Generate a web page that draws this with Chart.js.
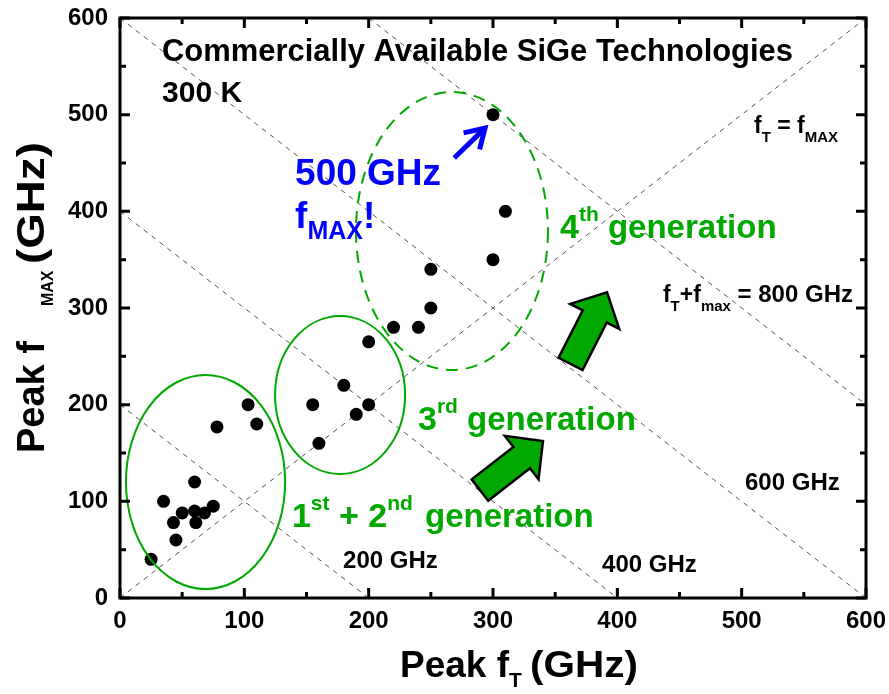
<!DOCTYPE html>
<html><head><meta charset="utf-8">
<script src="https://cdn.jsdelivr.net/npm/chart.js@4/dist/chart.umd.min.js"></script>
<style>html,body{margin:0;padding:0;background:#fff}canvas{display:block}</style>
</head><body>
<canvas id="c" width="889" height="694"></canvas>
<script>
// ---- data ----
const peakFT   = [25, 35, 45, 43, 50, 60, 61, 68, 75, 60, 78, 103, 110, 155, 160, 180, 190, 200, 200, 220, 240, 250, 250, 300, 300, 310];
const peakFMAX = [40, 100, 60, 78, 88, 90, 78, 88, 95, 120, 177, 200, 180, 200, 160, 220, 190, 200, 265, 280, 280, 300, 340, 350, 500, 400];
const axisTicks = [0, 100, 200, 300, 400, 500, 600];
const sumLines = [200, 400, 600, 800];   // fT + fmax = const (GHz)

const FONT = '"Liberation Sans", Arial, sans-serif';
const GREEN = '#00a800';
const BLUE = '#0000ff';

const guideDatasets = [
  {type:'line', data:[{x:0,y:0},{x:600,y:600}]}
].concat(sumLines.map(s => ({type:'line', data:[{x:Math.max(0,s-600),y:Math.min(600,s)},{x:Math.min(600,s),y:Math.max(0,s-600)}]})))
 .map(d => Object.assign(d, {borderColor:'#555', borderWidth:1, borderDash:[5,5], pointRadius:0, fill:false, tension:0}));

// annotation layout (data coordinates)
const ellipses = [
  {cx:68.8, cy:120, rx:64, ry:110.7, dash:[]},
  {cx:177, cy:210, rx:52.3, ry:81.7, dash:[]},
  {cx:267, cy:379.6, rx:77.2, ry:143.8, dash:[12,8]}
];
const greenArrows = [
  {tail:[289.5,111.7], tip:[340.2,162.4]},
  {tail:[362.4,242.2], tip:[391.7,316.2]}
];

function rich(ctx, x, y, parts, color, align) {
  // parts: [text, size, dy]
  let w = 0;
  parts.forEach(p => { ctx.font = 'bold ' + p[1] + 'px ' + FONT; w += ctx.measureText(p[0]).width; });
  let cx = align === 'center' ? x - w/2 : (align === 'right' ? x - w : x);
  ctx.fillStyle = color; ctx.textBaseline = 'alphabetic'; ctx.textAlign = 'left';
  parts.forEach(p => { ctx.font = 'bold ' + p[1] + 'px ' + FONT; ctx.fillText(p[0], cx, y + (p[2]||0)); cx += ctx.measureText(p[0]).width; });
}
function stretch(ctx, text, x, y, size, width) {
  ctx.save();
  ctx.font = 'bold ' + size + 'px ' + FONT; ctx.textAlign = 'left'; ctx.textBaseline = 'alphabetic';
  const w = ctx.measureText(text).width;
  ctx.translate(x, y); ctx.scale(width / w, 1); ctx.fillText(text, 0, 0);
  ctx.restore();
}

const annot = {
  id:'annot',
  afterDatasetsDraw(chart) {
    const ctx = chart.ctx, xs = chart.scales.x, ys = chart.scales.y;
    const X = v => xs.getPixelForValue(v), Y = v => ys.getPixelForValue(v);
    ctx.save();
    // ellipses
    ellipses.forEach(e => {
      ctx.beginPath();
      const rxp = Math.abs(X(e.cx + e.rx) - X(e.cx)), ryp = Math.abs(Y(e.cy + e.ry) - Y(e.cy));
      ctx.ellipse(X(e.cx), Y(e.cy), rxp, ryp, 0, 0, Math.PI*2);
      ctx.setLineDash(e.dash); ctx.strokeStyle = GREEN; ctx.lineWidth = 2; ctx.stroke();
    });
    ctx.setLineDash([]);
    // green block arrows
    greenArrows.forEach(a => {
      const tx = X(a.tail[0]), ty = Y(a.tail[1]), px = X(a.tip[0]), py = Y(a.tip[1]);
      const L = Math.hypot(px-tx, py-ty), ux = (px-tx)/L, uy = (py-ty)/L, nx = -uy, ny = ux;
      const sw = 13.5, hw = 27.5, hl = 27;
      const bx = px - ux*hl, by = py - uy*hl;
      const pts = [[tx+nx*sw,ty+ny*sw],[bx+nx*sw,by+ny*sw],[bx+nx*hw,by+ny*hw],[px,py],[bx-nx*hw,by-ny*hw],[bx-nx*sw,by-ny*sw],[tx-nx*sw,ty-ny*sw]];
      ctx.beginPath(); pts.forEach((p,i)=> i?ctx.lineTo(p[0],p[1]):ctx.moveTo(p[0],p[1])); ctx.closePath();
      ctx.fillStyle = GREEN; ctx.fill(); ctx.lineWidth = 2.5; ctx.strokeStyle = '#000'; ctx.lineJoin='miter'; ctx.stroke();
    });
    // blue arrow
    {
      const tx = X(268.8), ty = Y(455.2), px = X(293.6), py = Y(486.2);
      const ang = Math.atan2(py-ty, px-tx);
      ctx.strokeStyle = BLUE; ctx.lineWidth = 5; ctx.lineCap = 'butt';
      ctx.beginPath(); ctx.moveTo(tx,ty); ctx.lineTo(px-Math.cos(ang)*3, py-Math.sin(ang)*3); ctx.stroke();
      ctx.beginPath();
      ctx.moveTo(px - 22*Math.cos(ang-0.55), py - 22*Math.sin(ang-0.55));
      ctx.lineTo(px, py);
      ctx.lineTo(px - 22*Math.cos(ang+0.55), py - 22*Math.sin(ang+0.55));
      ctx.lineJoin = 'miter'; ctx.stroke();
    }
    // texts
    ctx.font = 'bold 31px ' + FONT; ctx.fillStyle = '#000'; ctx.textAlign='left';
    ctx.fillText('Commercially Available SiGe Technologies', X(33.8), Y(555.5), 631);
    ctx.font = 'bold 30px ' + FONT;
    ctx.fillText('300 K', X(33.8), Y(513.1));
    rich(ctx, X(509.9), Y(481), [['f',23],['T',15,9],[' = f',23],['MAX',15,9]], '#000');
    rich(ctx, X(436.7), Y(306.2), [['f',23],['T',15,9],['+f',23],['max',15,9],[' = 800 GHz',24]], '#000');
    rich(ctx, X(502.7), Y(111.7), [['600 GHz',24]], '#000');
    rich(ctx, X(387.7), Y(26.9), [['400 GHz',24]], '#000');
    rich(ctx, X(179.4), Y(31), [['200 GHz',24]], '#000');
    rich(ctx, X(140.8), Y(427.2), [['500 GHz',37]], BLUE);
    rich(ctx, X(140.8), Y(382.8), [['f',37],['MAX',25,11],['!',37]], BLUE);
    rich(ctx, X(239.7), Y(173.8), [['3',34],['rd',21,-17],[' generation',33]], GREEN);
    rich(ctx, X(138.3), Y(73.4), [['1',34],['st',21,-17],[' + 2',34],['nd',21,-17]], GREEN);
    rich(ctx, X(245.3), Y(73.4), [['generation',33]], GREEN);
    rich(ctx, X(353.9), Y(372.4), [['4',34],['th',21,-17],[' generation',33]], GREEN);
    ctx.restore();
  },
  afterDraw(chart) {
    const ctx = chart.ctx, a = chart.chartArea, xs = chart.scales.x, ys = chart.scales.y;
    ctx.save();
    ctx.strokeStyle = '#000'; ctx.lineWidth = 3; ctx.setLineDash([]);
    ctx.strokeRect(a.left, a.top, a.right - a.left, a.bottom - a.top);
    ctx.beginPath();
    for (let v = 0; v <= 600; v += 50) {
      const len = v % 100 === 0 ? 10 : 6;
      const x = xs.getPixelForValue(v), y = ys.getPixelForValue(v);
      ctx.moveTo(x, a.bottom); ctx.lineTo(x, a.bottom - len);
      ctx.moveTo(x, a.top); ctx.lineTo(x, a.top + len);
      ctx.moveTo(a.left, y); ctx.lineTo(a.left + len, y);
      ctx.moveTo(a.right, y); ctx.lineTo(a.right - len, y);
    }
    ctx.stroke();
    // axis titles (x: "Peak f_T (GHz)", y: "Peak f_MAX (GHz)")
    ctx.fillStyle = '#000';
    const xb = a.bottom + 79;
    rich(ctx, xs.getPixelForValue(225.2), xb, [['Peak f',37],['T',21,10]], '#000');
    stretch(ctx, '(GHz)', xs.getPixelForValue(329.8), xb, 37, 108);
    ctx.translate(44, 0);
    ctx.rotate(-Math.PI/2);
    // in rotated frame: x' = -y_pixel
    rich(ctx, -ys.getPixelForValue(150), 0, [['Peak f',38]], '#000');
    rich(ctx, -ys.getPixelForValue(302), 0, [['MAX',16,9]], '#000');
    stretch(ctx, '(GHz)', -ys.getPixelForValue(345.5), 0, 38, 122);
    ctx.restore();
  }
};

new Chart(document.getElementById('c'), {
  type:'scatter',
  data:{
    datasets:[
      {label:'SiGe', data: peakFT.map((x,i)=>({x, y:peakFMAX[i]})), pointRadius:6.5, pointBackgroundColor:'#000', pointBorderWidth:0, borderColor:'#000'}
    ].concat(guideDatasets)
  },
  options:{
    responsive:false, animation:false, devicePixelRatio:1,
    layout:{padding:{left:0, right:23, top:18, bottom:0}},
    plugins:{legend:{display:false}, tooltip:{enabled:false}},
    scales:{
      x:{type:'linear', min:0, max:600, afterBuildTicks: s => { s.ticks = axisTicks.map(v=>({value:v})); },
         afterFit: s => { s.height = 96; s.paddingLeft = 0; s.paddingRight = 0; s.paddingTop = 0; s.paddingBottom = 0; },
         grid:{display:false, drawTicks:false}, border:{display:false},
         ticks:{color:'#000', padding:9, font:{family:FONT, weight:'bold', size:24}, maxRotation:0}},
      y:{type:'linear', min:0, max:600, afterBuildTicks: s => { s.ticks = axisTicks.map(v=>({value:v})); },
         afterFit: s => { s.width = 120; s.paddingLeft = 0; s.paddingRight = 0; s.paddingTop = 0; s.paddingBottom = 0; },
         grid:{display:false, drawTicks:false}, border:{display:false},
         ticks:{color:'#000', padding:12, font:{family:FONT, weight:'bold', size:24}}}
    }
  },
  plugins:[annot]
});
</script>
</body></html>
